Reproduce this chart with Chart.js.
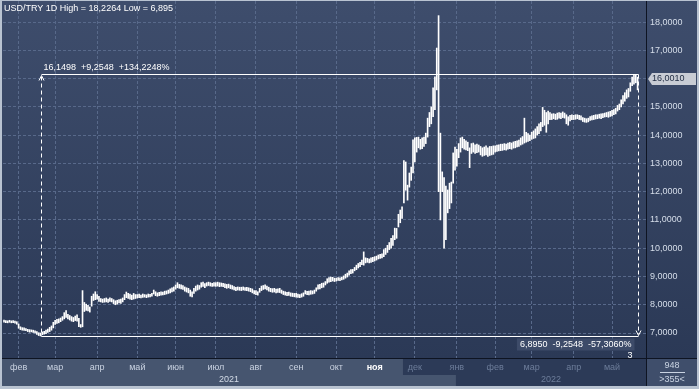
<!DOCTYPE html>
<html>
<head>
<meta charset="utf-8">
<script src="https://cdn.jsdelivr.net/npm/chart.js@4/dist/chart.umd.min.js"></script>
<style>
  html, body { margin: 0; padding: 0; background: #b9c3d1; }
  canvas { display: block; }
</style>
</head>
<body>
<canvas id="chart" width="699" height="389"></canvas>
<script>
// one bar per weekday, 20.01.2021 .. 20.05.2022
const monthTicks = [8, 28, 51, 73, 94, 116, 138, 160, 182, 203, 225, 248, 269, 289, 312, 333];
const monthLabels = ["фев", "мар", "апр", "май", "июн", "июл", "авг", "сен", "окт", "ноя", "дек", "янв", "фев", "мар", "апр", "май"];
const yearLabels = ["2021", "2022"];
const yearBreak = 247.5;
const monthBandEnd = 218.5;
const yTicks = [7, 8, 9, 10, 11, 12, 13, 14, 15, 16, 17, 18];

const lows = [
  7.38, 7.37, 7.36, 7.38, 7.36, 7.37, 7.35, 7.31,
  7.17, 7.12, 7.10, 7.09, 7.08, 7.05, 7.03, 7.04, 7.02, 7.00, 6.95, 6.91, 6.895, 6.94, 6.96, 6.98, 7.02, 7.05, 7.10, 7.18,
  7.30, 7.34, 7.36, 7.40, 7.45, 7.50, 7.55, 7.50, 7.46, 7.42, 7.40, 7.44, 7.42, 7.22, 7.20, 7.22, 7.76, 7.80, 7.78, 7.74, 7.95, 8.15, 8.18,
  8.20, 8.12, 8.10, 8.08, 8.09, 8.10, 8.08, 8.12, 8.10, 8.04, 8.00, 8.02, 8.06, 8.05, 8.10, 8.18, 8.25, 8.22, 8.20, 8.18, 8.20, 8.22,
  8.24, 8.25, 8.24, 8.26, 8.27, 8.25, 8.27, 8.28, 8.30, 8.38, 8.32, 8.30, 8.32, 8.34, 8.35, 8.36, 8.38, 8.40, 8.42, 8.45, 8.48,
  8.55, 8.60, 8.58, 8.56, 8.54, 8.48, 8.45, 8.42, 8.30, 8.28, 8.40, 8.48, 8.52, 8.55, 8.62, 8.65, 8.60, 8.66, 8.68, 8.66, 8.65, 8.66,
  8.65, 8.66, 8.64, 8.65, 8.64, 8.60, 8.58, 8.60, 8.57, 8.55, 8.52, 8.50, 8.52, 8.51, 8.50, 8.52, 8.51, 8.50, 8.48, 8.46, 8.42, 8.38,
  8.36, 8.34, 8.44, 8.50, 8.54, 8.56, 8.52, 8.48, 8.46, 8.44, 8.45, 8.42, 8.44, 8.43, 8.40, 8.36, 8.34, 8.32, 8.33, 8.30, 8.29, 8.28,
  8.27, 8.26, 8.25, 8.27, 8.30, 8.38, 8.36, 8.35, 8.37, 8.38, 8.40, 8.48, 8.55, 8.56, 8.60, 8.62, 8.70, 8.76, 8.80, 8.82, 8.84, 8.82,
  8.84, 8.86, 8.85, 8.88, 8.90, 8.94, 8.98, 9.05, 9.10, 9.12, 9.20, 9.24, 9.30, 9.35, 9.42, 9.40, 9.48, 9.50, 9.48, 9.50, 9.52,
  9.55, 9.58, 9.62, 9.64, 9.66, 9.70, 9.78, 9.85, 9.95, 10.00, 10.10, 10.30, 10.35, 10.75, 10.90, 11.05, 11.60, 12.05, 11.70, 12.16, 12.40, 12.66,
  13.05, 13.40, 13.55, 13.50, 13.52, 13.60, 13.70, 13.93, 14.30, 14.40, 14.65, 14.90, 15.60, 12.00, 11.00, 12.00, 10.00, 10.30, 11.25, 11.40, 11.60, 12.30, 12.76,
  12.90, 13.20, 13.40, 13.55, 13.50, 13.48, 13.45, 12.85, 13.35, 13.40, 13.35, 13.38, 13.40, 13.30, 13.25, 13.28, 13.30, 13.25, 13.28, 13.30, 13.32,
  13.40, 13.42, 13.44, 13.45, 13.46, 13.48, 13.47, 13.50, 13.52, 13.50, 13.54, 13.55, 13.58, 13.60, 13.65, 13.68, 13.72, 13.75, 13.78, 13.80,
  13.85, 13.88, 13.90, 14.00, 14.05, 14.15, 14.30, 14.35, 14.10, 14.40, 14.55, 14.55, 14.58, 14.55, 14.56, 14.60, 14.58, 14.62, 14.60, 14.40, 14.35, 14.50, 14.55,
  14.55, 14.56, 14.58, 14.55, 14.54, 14.48, 14.46, 14.45, 14.47, 14.52, 14.54, 14.55, 14.57, 14.58, 14.60, 14.58, 14.62, 14.64, 14.65, 14.63, 14.66,
  14.68, 14.72, 14.75, 14.85, 14.90, 15.00, 15.10, 15.20, 15.30, 15.35, 15.55, 15.75, 15.80, 15.85, 15.60
];

const highs = [
  7.46, 7.44, 7.43, 7.45, 7.43, 7.44, 7.42, 7.40,
  7.32, 7.22, 7.19, 7.18, 7.16, 7.13, 7.12, 7.11, 7.10, 7.08, 7.05, 7.01, 7.00, 7.04, 7.06, 7.10, 7.14, 7.20, 7.25, 7.38,
  7.45, 7.48, 7.50, 7.53, 7.58, 7.72, 7.79, 7.66, 7.62, 7.58, 7.55, 7.60, 7.64, 7.52, 7.30, 8.50, 8.08, 8.02, 7.98, 7.92, 8.30, 8.38, 8.46,
  8.36, 8.30, 8.22, 8.20, 8.22, 8.24, 8.20, 8.24, 8.22, 8.18, 8.14, 8.16, 8.18, 8.20, 8.24, 8.36, 8.45, 8.40, 8.38, 8.34, 8.40, 8.36,
  8.36, 8.38, 8.34, 8.38, 8.36, 8.35, 8.38, 8.37, 8.40, 8.52, 8.46, 8.42, 8.44, 8.46, 8.45, 8.48, 8.49, 8.52, 8.56, 8.60, 8.63,
  8.70, 8.78, 8.72, 8.70, 8.68, 8.63, 8.60, 8.58, 8.52, 8.46, 8.58, 8.66, 8.70, 8.68, 8.78, 8.80, 8.75, 8.78, 8.80, 8.78, 8.76, 8.78,
  8.78, 8.80, 8.78, 8.77, 8.76, 8.74, 8.72, 8.73, 8.70, 8.68, 8.64, 8.62, 8.63, 8.62, 8.62, 8.63, 8.61, 8.62, 8.60, 8.58, 8.56, 8.50,
  8.50, 8.46, 8.58, 8.66, 8.68, 8.70, 8.66, 8.62, 8.58, 8.57, 8.58, 8.55, 8.56, 8.58, 8.52, 8.48, 8.46, 8.44, 8.45, 8.42, 8.41, 8.40,
  8.40, 8.38, 8.36, 8.39, 8.42, 8.50, 8.47, 8.48, 8.50, 8.49, 8.52, 8.60, 8.70, 8.72, 8.76, 8.77, 8.82, 8.92, 8.96, 8.98, 8.97, 8.94,
  8.94, 8.96, 8.95, 8.98, 9.02, 9.08, 9.12, 9.20, 9.24, 9.25, 9.32, 9.40, 9.46, 9.50, 9.58, 9.87, 9.66, 9.64, 9.62, 9.66, 9.68,
  9.70, 9.72, 9.76, 9.78, 9.80, 9.95, 10.00, 10.10, 10.20, 10.35, 10.45, 10.71, 10.70, 11.20, 11.35, 11.46, 13.10, 13.05, 12.23, 12.66, 12.87, 13.83,
  13.90, 13.92, 13.93, 13.85, 13.90, 13.93, 14.07, 14.60, 14.80, 15.00, 15.67, 16.06, 17.08, 18.2264, 14.07, 12.70, 12.50, 12.20, 12.06, 12.30, 12.34, 13.37, 13.58,
  13.50, 13.70, 13.90, 13.93, 13.85, 13.80, 13.75, 13.55, 13.70, 13.72, 13.66, 13.68, 13.65, 13.60, 13.55, 13.58, 13.62, 13.55, 13.60, 13.60, 13.62,
  13.62, 13.65, 13.66, 13.68, 13.68, 13.70, 13.68, 13.72, 13.74, 13.72, 13.76, 13.78, 13.80, 13.82, 13.90, 13.95, 14.60, 14.10, 14.05, 14.00,
  14.10, 14.15, 14.22, 14.30, 14.40, 14.45, 14.98, 14.88, 14.80, 14.85, 14.80, 14.75, 14.76, 14.74, 14.78, 14.80, 14.78, 14.82, 14.78, 14.72, 14.65, 14.70, 14.72,
  14.70, 14.72, 14.72, 14.70, 14.68, 14.62, 14.60, 14.58, 14.60, 14.66, 14.68, 14.70, 14.72, 14.72, 14.74, 14.75, 14.76, 14.78, 14.80, 14.82, 14.84,
  14.88, 14.90, 14.95, 15.05, 15.10, 15.25, 15.40, 15.50, 15.60, 15.65, 15.85, 16.05, 16.1498, 16.12, 16.05
];

const lastClose = 16.0010;
const measureLow = 6.895;
const measureHigh = 16.1498;
const measureFrom = 20;
const measureTo = 347;
const titleText = "USD/TRY 1D High = 18,2264 Low = 6,895";

const FONT = '"Liberation Sans", Arial, sans-serif';
const fmt = (v, d) => v.toFixed(d).replace(".", ",");

function line(ctx, x1, y1, x2, y2) {
  ctx.beginPath();
  ctx.moveTo(x1, y1);
  ctx.lineTo(x2, y2);
  ctx.stroke();
}

const chromePlugin = {
  id: "chrome",
  beforeDraw(chart) {
    const { ctx, chartArea: a, scales: { x } } = chart;
    const W = chart.width, H = chart.height;
    ctx.save();
    ctx.fillStyle = "#b9c3d1";
    ctx.fillRect(0, 0, W, H);

    const g = ctx.createLinearGradient(0, a.top, 0, a.bottom);
    g.addColorStop(0, "#3e4d6c");
    g.addColorStop(1, "#2b3956");
    ctx.fillStyle = g;
    ctx.fillRect(2, 1, W - 4, a.bottom - 1);

    // month row and year row
    ctx.fillStyle = "#2c3a57";
    ctx.fillRect(2, a.bottom, a.right - 2, H - 3 - a.bottom);
    ctx.fillStyle = "#46556f";
    const xm = x.getPixelForValue(monthBandEnd);
    const xy = x.getPixelForValue(yearBreak);
    ctx.fillRect(2, a.bottom, xm - 2, 17);
    ctx.fillRect(2, a.bottom + 17, xy - 2, H - 3 - a.bottom - 17);
    ctx.restore();
  },
  afterDatasetsDraw(chart) {
    const { ctx, scales: { x, y } } = chart;
    ctx.save();
    const x1 = Math.round(x.getPixelForValue(measureFrom)) + 0.5;
    const x2 = Math.round(x.getPixelForValue(measureTo)) + 0.5;
    const yHi = Math.round(y.getPixelForValue(measureHigh)) + 0.5;
    const yLo = Math.round(y.getPixelForValue(measureLow)) + 0.5;
    ctx.strokeStyle = "#ffffff";
    ctx.lineWidth = 1;
    line(ctx, x1, yHi, x2, yHi);
    line(ctx, x1, yLo, x2, yLo);
    ctx.setLineDash([4, 3]);
    line(ctx, x1, yHi + 2, x1, yLo);
    line(ctx, x2, yHi, x2, yLo - 2);
    ctx.setLineDash([]);
    // arrow heads
    ctx.beginPath();
    ctx.moveTo(x1 - 2.5, yHi + 6); ctx.lineTo(x1, yHi + 1); ctx.lineTo(x1 + 2.5, yHi + 6);
    ctx.stroke();
    ctx.beginPath();
    ctx.moveTo(x2 - 2.5, yLo - 6); ctx.lineTo(x2, yLo - 1); ctx.lineTo(x2 + 2.5, yLo - 6);
    ctx.stroke();

    const diff = measureHigh - measureLow;
    ctx.font = "9px " + FONT;
    ctx.textBaseline = "middle";
    ctx.fillStyle = "#ffffff";
    ctx.textAlign = "left";
    ctx.fillText(fmt(measureHigh, 4) + "  +" + fmt(diff, 4) + "  +" + fmt(diff / measureLow * 100, 4) + "%", x1 + 2, yHi - 7);

    const lowText = fmt(measureLow, 4) + "  -" + fmt(diff, 4) + "  -" + fmt(diff / measureHigh * 100, 4) + "%";
    const tw = ctx.measureText(lowText).width;
    ctx.fillStyle = "#3d4b69";
    ctx.fillRect(x2 - 10 - tw, yLo + 2, tw + 6, 12);
    ctx.fillStyle = "#ffffff";
    ctx.textAlign = "right";
    ctx.fillText(lowText, x2 - 7, yLo + 8);
    ctx.fillText("3", x2 - 6, yLo + 19);

    ctx.textAlign = "left";
    ctx.fillText(titleText, 4, 9);
    ctx.restore();
  },
  afterDraw(chart) {
    const { ctx, chartArea: a, scales: { x, y } } = chart;
    const W = chart.width, H = chart.height;
    ctx.save();
    ctx.fillStyle = "#0e1422";
    ctx.fillRect(a.right, 1, 1, H - 4);
    ctx.fillRect(2, a.bottom, W - 4, 1);

    // year labels centred in their bands
    const xy = x.getPixelForValue(yearBreak);
    ctx.font = "9px " + FONT;
    ctx.textAlign = "center";
    ctx.textBaseline = "middle";
    ctx.fillStyle = "#d3dbe7";
    ctx.fillText(yearLabels[0], (2 + xy) / 2, a.bottom + 22);
    ctx.fillStyle = "#6d7d9a";
    ctx.fillText(yearLabels[1], (xy + a.right) / 2, a.bottom + 22);

    // bottom right corner box
    ctx.fillStyle = "#3f4e6b";
    ctx.fillRect(a.right + 1, a.bottom + 1, W - a.right - 3, H - a.bottom - 4);
    ctx.fillStyle = "#c9d3e2";
    ctx.fillText("948", a.right + 26, a.bottom + 8);
    ctx.fillRect(a.right + 14, a.bottom + 14, 25, 1);
    ctx.fillText(">355<", a.right + 26, a.bottom + 22);

    // last price marker
    const py = Math.round(y.getPixelForValue(lastClose));
    ctx.fillStyle = "#c8ccd4";
    ctx.beginPath();
    ctx.moveTo(a.right + 2, py);
    ctx.lineTo(a.right + 6, py - 6);
    ctx.lineTo(W - 3, py - 6);
    ctx.lineTo(W - 3, py + 6);
    ctx.lineTo(a.right + 6, py + 6);
    ctx.closePath();
    ctx.fill();
    ctx.fillStyle = "#1e2a40";
    ctx.textAlign = "left";
    ctx.fillText(fmt(lastClose, 4), a.right + 6, py);
    ctx.restore();
  }
};

const noPad = s => { s.paddingTop = 0; s.paddingBottom = 0; s.paddingLeft = 0; s.paddingRight = 0; };

new Chart(document.getElementById("chart"), {
  type: "bar",
  data: {
    datasets: [{
      data: lows.map((lo, i) => ({ x: i, y: [lo, highs[i]] })),
      backgroundColor: "#ffffff",
      borderWidth: 0,
      barThickness: 1
    }]
  },
  options: {
    responsive: false,
    animation: false,
    events: [],
    layout: { padding: { left: 3, top: 1, right: 0, bottom: 0 } },
    plugins: { legend: { display: false }, tooltip: { enabled: false } },
    scales: {
      x: {
        type: "linear",
        min: -0.55,
        max: 351.6,
        bounds: "data",
        offset: false,
        afterBuildTicks: s => { s.ticks = monthTicks.map(v => ({ value: v })); },
        afterFit: s => { s.height = 31; noPad(s); },
        grid: { color: "#58698a", drawTicks: false, offset: false },
        border: { display: false, dash: [3, 2] },
        ticks: {
          autoSkip: false,
          maxRotation: 0,
          padding: 4,
          callback: (v, i) => monthLabels[i],
          color: c => c.index === 9 ? "#ffffff" : (c.tick.value < monthBandEnd ? "#c9d2e1" : "#6d7d9a"),
          font: c => ({ family: FONT, size: 9, weight: c.index === 9 ? "bold" : "normal" })
        }
      },
      y: {
        position: "right",
        min: 6.116,
        max: 18.744,
        bounds: "data",
        afterBuildTicks: s => { s.ticks = yTicks.map(v => ({ value: v })); },
        afterFit: s => { s.width = 53; noPad(s); },
        grid: { color: "#58698a", drawTicks: false },
        border: { display: false, dash: [3, 2] },
        ticks: {
          color: "#d6deea",
          padding: 4,
          font: { family: FONT, size: 9 },
          callback: v => fmt(v, 4)
        }
      }
    }
  },
  plugins: [chromePlugin]
});
</script>
</body>
</html>
